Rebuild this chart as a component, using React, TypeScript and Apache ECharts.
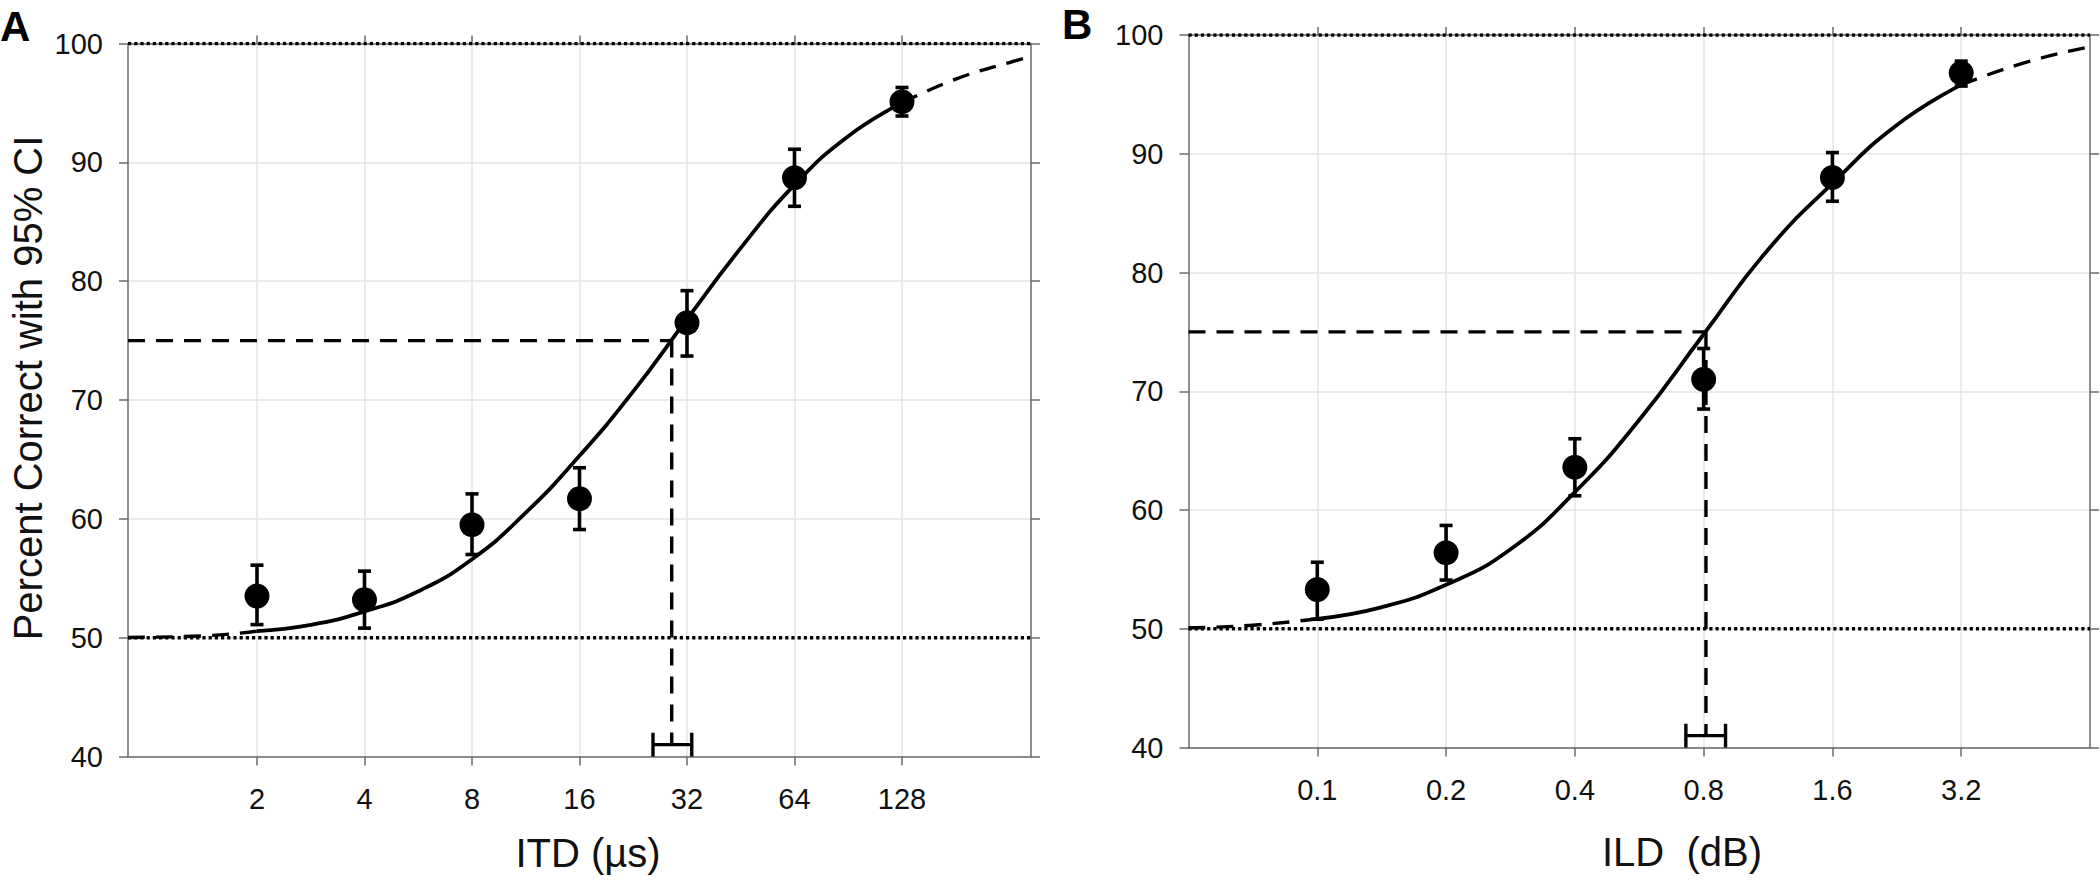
import React, { useEffect, useRef } from "react";
import * as echarts from "echarts";

// ---------- Panel A : ITD ----------
const itdLevels = [2, 4, 8, 16, 32, 64, 128];
const itdPercent = [53.5, 53.2, 59.5, 61.7, 76.5, 88.7, 95.1];
const itdLower = [51.1, 50.8, 57.0, 59.1, 73.7, 86.3, 93.9];
const itdUpper = [56.1, 55.6, 62.1, 64.3, 79.2, 91.1, 96.3];
const itdFitX = [0.8706, 1.41, 2, 2.83, 4, 5.66, 8, 11.3, 16, 22.6, 32, 45.3, 64, 90.5, 128, 181, 256, 294.1];
const itdFitY = [50.02, 50.15, 50.55, 51.07, 52.2, 53.9, 56.6, 60.5, 65.3, 70.7, 76.8, 82.8, 88.1, 92.2, 95.0, 97.0, 98.4, 98.9];
const itdThreshold = 29.0;
const itdThresholdCI = [25.7, 33.0];
const itdAxisRange = [0.8706, 294.1];

// ---------- Panel B : ILD ----------
const ildLevels = [0.1, 0.2, 0.4, 0.8, 1.6, 3.2];
const ildPercent = [53.3, 56.4, 63.6, 71.0, 88.0, 96.8];
const ildLower = [50.8, 54.1, 61.2, 68.5, 86.0, 95.7];
const ildUpper = [55.6, 58.7, 66.0, 73.6, 90.1, 97.8];
const ildFitX = [0.05, 0.0707, 0.1, 0.141, 0.2, 0.283, 0.4, 0.566, 0.8, 1.13, 1.6, 2.26, 3.2, 4.53, 6.4];
const ildFitY = [50.08, 50.3, 50.84, 51.8, 53.7, 56.7, 61.5, 67.6, 74.8, 81.9, 87.5, 92.4, 95.8, 97.7, 99.0];
const ildThreshold = 0.81;
const ildThresholdCI = [0.727, 0.9];
const ildAxisRange = [0.05, 6.4];

// ---------- shared ----------
const yTicks = [40, 50, 60, 70, 80, 90, 100];
const chanceLevel = 50;
const ceilingLevel = 100;
const thresholdLevel = 75;
const ciBarLevel = 41;
const ciCapHalf = 1;

const FONT = "'Liberation Sans', Arial, Helvetica, sans-serif";
const AX = "#6a6a6a";
const GRID = "#e4e4e4";
const TXT = "#111";

const lg = (v: number) => Math.log2(v);

type Panel = {
  levels: number[];
  pct: number[];
  lo: number[];
  hi: number[];
  fitX: number[];
  fitY: number[];
  thr: number;
  thrCI: number[];
  range: number[];
  fmt: (v: number) => string;
  grid: { left: number; top: number; width: number; height: number };
};

function buildPanel(p: Panel, gi: number) {
  const xMin = lg(p.range[0]);
  const xMax = lg(p.range[1]);
  const ticks = p.levels.map(lg);
  const xA = gi * 2;
  const yA = gi * 2;
  const axisLineStyle = { color: AX, width: 1.5 };
  const xAxis = [
    {
      gridIndex: gi,
      type: "value",
      position: "bottom",
      min: xMin,
      max: xMax,
      axisLine: { show: true, onZero: false, lineStyle: axisLineStyle },
      axisTick: { show: true, inside: false, length: 9, customValues: ticks, lineStyle: axisLineStyle },
      axisLabel: {
        show: true,
        customValues: ticks,
        formatter: p.fmt,
        margin: 28,
        fontSize: 29,
        color: TXT,
        fontFamily: FONT,
      },
      splitLine: { show: true, lineStyle: { color: GRID, width: 1.5 } },
    },
    {
      gridIndex: gi,
      type: "value",
      position: "top",
      min: xMin,
      max: xMax,
      axisLine: { show: true, onZero: false, lineStyle: axisLineStyle },
      axisTick: { show: true, inside: false, length: 8, customValues: ticks, lineStyle: axisLineStyle },
      axisLabel: { show: false, customValues: ticks },
      splitLine: { show: false },
    },
  ];
  const yAxis = [
    {
      gridIndex: gi,
      type: "value",
      position: "left",
      min: yTicks[0],
      max: yTicks[yTicks.length - 1],
      interval: 10,
      axisLine: { show: true, onZero: false, lineStyle: axisLineStyle },
      axisTick: { show: true, inside: false, length: 9, lineStyle: axisLineStyle },
      axisLabel: { show: true, margin: 25, fontSize: 29, color: TXT, fontFamily: FONT },
      splitLine: { show: true, lineStyle: { color: GRID, width: 1.5 } },
    },
    {
      gridIndex: gi,
      type: "value",
      position: "right",
      min: yTicks[0],
      max: yTicks[yTicks.length - 1],
      interval: 10,
      axisLine: { show: true, onZero: false, lineStyle: axisLineStyle },
      axisTick: { show: true, inside: false, length: 9, lineStyle: axisLineStyle },
      axisLabel: { show: false },
      splitLine: { show: false },
    },
  ];

  const base = { xAxisIndex: xA, yAxisIndex: yA, animation: false, silent: true };
  const fitAll = p.fitX.map((x, i) => [lg(x), p.fitY[i]]);
  const lowEnd = p.levels[0];
  const highEnd = p.levels[p.levels.length - 1];
  const fitSolid = fitAll.filter((d, i) => p.fitX[i] >= lowEnd && p.fitX[i] <= highEnd);
  const fitLeft = fitAll.filter((d, i) => p.fitX[i] <= lowEnd);
  const fitRight = fitAll.filter((d, i) => p.fitX[i] >= highEnd);

  const dotted = { color: "#000", width: 3.5, type: [3.2, 3] as any };
  const dashed = { color: "#000", width: 3.4, type: [17, 11] as any };

  const series: any[] = [
    {
      ...base,
      type: "line",
      symbol: "none",
      z: 3,
      lineStyle: dotted,
      data: [
        [xMin, chanceLevel],
        [xMax, chanceLevel],
      ],
    },
    {
      ...base,
      type: "line",
      symbol: "none",
      z: 3,
      lineStyle: dotted,
      data: [
        [xMin, ceilingLevel],
        [xMax, ceilingLevel],
      ],
    },
    {
      ...base,
      type: "line",
      symbol: "none",
      z: 3,
      lineStyle: dashed,
      data: [
        [xMin, thresholdLevel],
        [lg(p.thr), thresholdLevel],
      ],
    },
    {
      ...base,
      type: "line",
      symbol: "none",
      z: 3,
      lineStyle: dashed,
      data: [
        [lg(p.thr), thresholdLevel],
        [lg(p.thr), ciBarLevel],
      ],
    },
    {
      ...base,
      type: "custom",
      z: 4,
      encode: { x: [0, 1], y: 2 },
      data: [[lg(p.thrCI[0]), lg(p.thrCI[1]), ciBarLevel]],
      renderItem: (params: any, api: any) => {
        const y = api.value(2);
        const a = api.coord([api.value(0), y]);
        const b = api.coord([api.value(1), y]);
        const aT = api.coord([api.value(0), y + ciCapHalf]);
        const aB = api.coord([api.value(0), y - ciCapHalf]);
        const bT = api.coord([api.value(1), y + ciCapHalf]);
        const bB = api.coord([api.value(1), y - ciCapHalf]);
        const st = { stroke: "#000", lineWidth: 3.4 };
        return {
          type: "group",
          children: [
            { type: "line", shape: { x1: a[0], y1: a[1], x2: b[0], y2: b[1] }, style: st },
            { type: "line", shape: { x1: aT[0], y1: aT[1], x2: aB[0], y2: aB[1] }, style: st },
            { type: "line", shape: { x1: bT[0], y1: bT[1], x2: bB[0], y2: bB[1] }, style: st },
          ],
        };
      },
    },
    {
      ...base,
      type: "line",
      symbol: "none",
      smooth: 0.5,
      z: 5,
      lineStyle: dashed,
      data: fitLeft,
    },
    {
      ...base,
      type: "line",
      symbol: "none",
      smooth: 0.5,
      z: 5,
      lineStyle: dashed,
      data: fitRight,
    },
    {
      ...base,
      type: "line",
      symbol: "none",
      smooth: 0.5,
      z: 6,
      lineStyle: { color: "#000", width: 3.8 },
      data: fitSolid,
    },
    {
      ...base,
      type: "custom",
      z: 7,
      encode: { x: 0, y: [1, 2] },
      data: p.levels.map((v, i) => [lg(v), p.lo[i], p.hi[i]]),
      renderItem: (params: any, api: any) => {
        const x = api.value(0);
        const a = api.coord([x, api.value(1)]);
        const b = api.coord([x, api.value(2)]);
        const hw = 6.5;
        const st = { stroke: "#000", lineWidth: 3.6 };
        return {
          type: "group",
          children: [
            { type: "line", shape: { x1: a[0], y1: a[1], x2: b[0], y2: b[1] }, style: st },
            { type: "line", shape: { x1: a[0] - hw, y1: a[1], x2: a[0] + hw, y2: a[1] }, style: st },
            { type: "line", shape: { x1: b[0] - hw, y1: b[1], x2: b[0] + hw, y2: b[1] }, style: st },
          ],
        };
      },
    },
    {
      ...base,
      type: "scatter",
      symbol: "circle",
      symbolSize: 25,
      z: 8,
      itemStyle: { color: "#000", opacity: 1 },
      data: p.levels.map((v, i) => [lg(v), p.pct[i]]),
    },
  ];
  return { grid: { ...p.grid, containLabel: false }, xAxis, yAxis, series };
}

export default function App() {
  const ref = useRef<HTMLDivElement>(null);
  useEffect(() => {
    document.body.style.margin = "0";
    if (!ref.current) return;
    const chart = echarts.init(ref.current, undefined, { renderer: "svg" });

    const A = buildPanel(
      {
        levels: itdLevels,
        pct: itdPercent,
        lo: itdLower,
        hi: itdUpper,
        fitX: itdFitX,
        fitY: itdFitY,
        thr: itdThreshold,
        thrCI: itdThresholdCI,
        range: itdAxisRange,
        fmt: (v: number) => String(Math.round(Math.pow(2, v))),
        grid: { left: 128, top: 43.5, width: 903, height: 713 },
      },
      0
    );
    const B = buildPanel(
      {
        levels: ildLevels,
        pct: ildPercent,
        lo: ildLower,
        hi: ildUpper,
        fitX: ildFitX,
        fitY: ildFitY,
        thr: ildThreshold,
        thrCI: ildThresholdCI,
        range: ildAxisRange,
        fmt: (v: number) => Math.pow(2, v).toFixed(1),
        grid: { left: 1188.5, top: 35, width: 901.5, height: 712.5 },
      },
      1
    );

    const titleStyle = { fontFamily: FONT, fontSize: 40, fill: TXT };
    chart.setOption({
      animation: false,
      backgroundColor: "#fff",
      grid: [A.grid, B.grid],
      xAxis: [...A.xAxis, ...B.xAxis],
      yAxis: [...A.yAxis, ...B.yAxis],
      series: [...A.series, ...B.series],
      graphic: [
        {
          type: "text",
          left: 0,
          top: 5,
          style: { text: "A", fontFamily: FONT, fontSize: 42, fontWeight: "bold", fill: "#000" },
        },
        {
          type: "text",
          left: 1062,
          top: 3,
          style: { text: "B", fontFamily: FONT, fontSize: 42, fontWeight: "bold", fill: "#000" },
        },
        {
          type: "text",
          x: 28,
          y: 388,
          rotation: Math.PI / 2,
          style: { ...titleStyle, text: "Percent Correct with 95% CI", align: "center", verticalAlign: "middle" },
        },
        {
          type: "text",
          x: 588,
          y: 853,
          style: { ...titleStyle, text: "ITD (µs)", align: "center", verticalAlign: "middle" },
        },
        {
          type: "text",
          x: 1682,
          y: 852,
          style: { ...titleStyle, text: "ILD  (dB)", align: "center", verticalAlign: "middle" },
        },
      ],
    });
    return () => chart.dispose();
  }, []);
  return <div ref={ref} style={{ width: 2100, height: 881 }} />;
}
